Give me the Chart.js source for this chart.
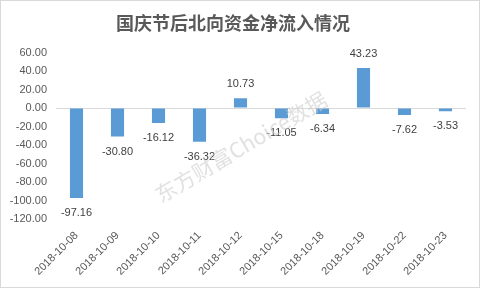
<!DOCTYPE html>
<html>
<head>
<meta charset="utf-8">
<script src="https://cdn.jsdelivr.net/npm/chart.js@4.4.1/dist/chart.umd.min.js"></script>
<style>
    html, body { margin: 0; padding: 0; background: #fff; }
    #wrap { width: 481px; height: 289px; position: relative; }
</style>
</head>
<body>
<div id="wrap"><canvas id="chart-beixiang"></canvas></div>
<script>
const datas = ['2018-10-08', '2018-10-09', '2018-10-10', '2018-10-11', '2018-10-12',
               '2018-10-15', '2018-10-18', '2018-10-19', '2018-10-22', '2018-10-23'];
const valores = [-97.16, -30.80, -16.12, -36.32, 10.73, -11.05, -6.34, 43.23, -7.62, -3.53];
const titulo = '国庆节后北向资金净流入情况';
const marcaDagua = '东方财富Choice数据';

const fonte = '"Liberation Sans", Arial, "Noto Sans CJK SC", sans-serif';

// rotulos dos valores + marca d'agua + moldura
const rotulosPlugin = {
    id: 'rotulos',
    afterDatasetsDraw(chart) {
        const ctx = chart.ctx;
        const meta = chart.getDatasetMeta(0);
        ctx.save();
        ctx.font = '11px ' + fonte;
        ctx.fillStyle = '#404040';
        ctx.textAlign = 'center';
        ctx.textBaseline = 'middle';
        meta.data.forEach((bar, i) => {
            const v = valores[i];
            const y = v >= 0 ? bar.y - 14 : bar.y + 15;
            ctx.fillText(v.toFixed(2), bar.x, y);
        });
        ctx.restore();
    },
    afterDraw(chart) {
        const ctx = chart.ctx;
        ctx.save();
        ctx.translate(241, 147);
        ctx.rotate(-30.5 * Math.PI / 180);
        ctx.font = '22px "Noto Sans CJK SC", sans-serif';
        const w = ctx.measureText(marcaDagua).width;
        const escala = 195 / w;
        ctx.scale(escala, escala);
        ctx.textAlign = 'center';
        ctx.textBaseline = 'middle';
        ctx.fillStyle = 'rgba(205, 205, 205, 0.6)';
        ctx.fillText(marcaDagua, 0, 0);
        ctx.restore();

        ctx.save();
        ctx.strokeStyle = '#d9d9d9';
        ctx.lineWidth = 1;
        ctx.strokeRect(0.5, 0.5, 479, 287);
        ctx.restore();
    }
};

const ctxBar = document.getElementById('chart-beixiang').getContext('2d');
new Chart(ctxBar, {
    type: 'bar',
    data: {
        labels: datas,
        datasets: [{
            data: valores,
            backgroundColor: '#5b9bd5',
            barPercentage: 0.32,
            categoryPercentage: 1
        }]
    },
    options: {
        responsive: true,
        maintainAspectRatio: false,
        animation: false,
        layout: {
            padding: { left: 0, right: 15, top: 0, bottom: 0 }
        },
        plugins: {
            legend: { display: false },
            tooltip: { enabled: false },
            title: {
                display: true,
                text: titulo,
                color: '#595959',
                font: { family: '"Noto Sans CJK SC", sans-serif', size: 18, weight: 'bold' },
                padding: { top: 12, bottom: 19 }
            }
        },
        scales: {
            x: {
                grid: { display: false, drawTicks: false },
                border: { display: false },
                ticks: {
                    color: '#595959',
                    font: { family: fonte, size: 11 },
                    minRotation: 45,
                    maxRotation: 45,
                    autoSkip: false,
                    padding: 10
                },
                afterFit: (scale) => { scale.height = 70; }
            },
            y: {
                min: -120,
                max: 60,
                grid: {
                    drawTicks: false,
                    color: (c) => c.tick && c.tick.value === 0 ? '#d9d9d9' : 'rgba(0,0,0,0)'
                },
                border: { display: false },
                ticks: {
                    stepSize: 20,
                    color: '#595959',
                    font: { family: fonte, size: 11 },
                    padding: 9,
                    callback: (v) => v.toFixed(2)
                },
                afterFit: (scale) => { scale.width = 56; }
            }
        }
    },
    plugins: [rotulosPlugin]
});
</script>
</body>
</html>
